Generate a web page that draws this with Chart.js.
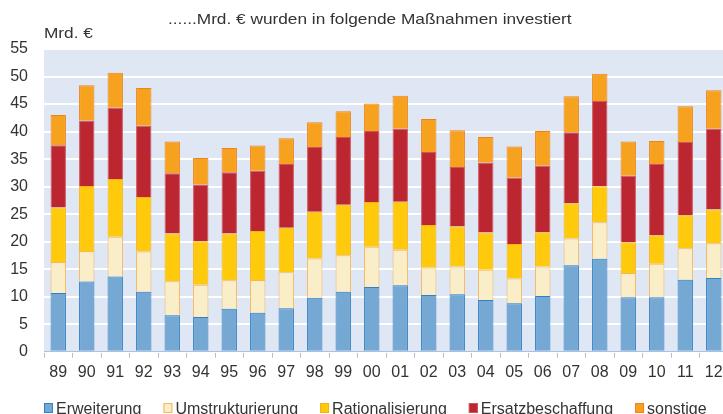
<!DOCTYPE html>
<html>
<head>
<meta charset="utf-8">
<script src="https://cdn.jsdelivr.net/npm/chart.js@4"></script>
<style>
  html, body { margin: 0; padding: 0; background: #fff; overflow: hidden; }
  #wrap { width: 723px; height: 414px; overflow: hidden; position: relative; }
  #box { width: 728px; height: 414px; position: absolute; left: 0; top: 0; }
</style>
</head>
<body>
<div id="wrap"><div id="box"><canvas id="chart"></canvas></div></div>
<script>
const years = ["89","90","91","92","93","94","95","96","97","98","99","00","01","02","03","04","05","06","07","08","09","10","11","12"];
const erweiterung       = [10.7,12.75,13.7,10.9,6.65,6.3,7.8,7.1,7.9,9.8,10.9,11.75,12.1,10.3,10.45,9.4,8.8,10.15,15.7,16.9,9.9,9.9,13.1,13.4];
const umstrukturierung  = [5.6,5.55,7.2,7.3,6.15,5.9,5.2,5.95,6.55,7.15,6.65,7.35,6.45,5.0,5.05,5.5,4.5,5.35,4.9,6.65,4.4,6.1,5.7,6.3];
const rationalisierung  = [9.9,11.8,10.5,9.9,8.7,7.9,8.5,8.9,8.1,8.5,9.15,8.1,8.7,7.75,7.25,6.75,6.3,6.2,6.4,6.5,5.6,5.15,6.0,6.15];
const ersatzbeschaffung = [11.3,11.9,12.95,12.95,10.95,10.3,11.1,10.95,11.55,11.75,12.3,12.9,13.25,13.25,10.8,12.75,12.0,12.1,12.9,15.5,12.1,12.95,13.3,14.65];
const sonstige          = [5.5,6.4,6.35,6.85,5.75,4.8,4.4,4.55,4.7,4.5,4.7,5.0,6.0,6.0,6.7,4.6,5.7,6.3,6.5,4.95,6.2,4.2,6.5,7.0];
const yTicks = [0,5,10,15,20,25,30,35,40,45,50,55];

const font = "'Liberation Sans', Arial, sans-serif";
const textColor = "#333333";

// background of plot, title, unit label and legend (drawn by hand to keep one row)
const extras = {
  id: "extras",
  beforeDraw(chart) {
    const { ctx, chartArea: a } = chart;
    ctx.save();
    ctx.fillStyle = "#dfe7f4";
    ctx.fillRect(a.left, a.top, a.right - a.left, a.bottom - a.top);
    ctx.restore();
  },
  afterDraw(chart) {
    const { ctx, chartArea: a } = chart;
    ctx.save();
    ctx.fillStyle = textColor;
    ctx.font = "15px " + font;
    ctx.textBaseline = "alphabetic";
    // the original text is a bit wider than normal
    ctx.save();
    ctx.translate(168, 24);
    ctx.scale(1.15, 1);
    ctx.fillText("......Mrd. € wurden in folgende Maßnahmen investiert", 0, 0);
    ctx.restore();
    ctx.save();
    ctx.translate(a.left, 38);
    ctx.scale(1.15, 1);
    ctx.fillText("Mrd. €", 0, 0);
    ctx.restore();

    ctx.font = "16px " + font;
    let x = a.left;
    chart.data.datasets.forEach(d => {
      ctx.fillStyle = d.backgroundColor;
      ctx.fillRect(x, 403, 9, 10);
      ctx.strokeStyle = d.borderColor;
      ctx.lineWidth = 1;
      ctx.strokeRect(x + 0.5, 403.5, 8, 9);
      ctx.fillStyle = textColor;
      ctx.fillText(d.label, x + 12, 414);
      x += 12 + ctx.measureText(d.label).width + 22;
    });
    ctx.restore();
  }
};

function ds(label, data, bg, border) {
  return { label, data, backgroundColor: bg, borderColor: border, borderWidth: 1,
           barPercentage: 0.54, categoryPercentage: 1 };
}

new Chart(document.getElementById("chart"), {
  type: "bar",
  data: {
    labels: years,
    datasets: [
      ds("Erweiterung", erweiterung, "#76a8d4", "#2f80c4"),
      ds("Umstrukturierung", umstrukturierung, "#faeec9", "#f6b65a"),
      ds("Rationalisierung", rationalisierung, "#ffc90c", "#f7b414"),
      ds("Ersatzbeschaffung", ersatzbeschaffung, "#bb2630", "#d0545a"),
      ds("sonstige", sonstige, "#f7a21f", "#f0821c")
    ]
  },
  options: {
    responsive: true,
    maintainAspectRatio: false,
    animation: false,
    layout: { padding: { top: 49, right: 0, left: 0, bottom: 27 } },
    plugins: {
      legend: { display: false },
      tooltip: { enabled: false }
    },
    scales: {
      x: {
        stacked: true,
        grid: { drawOnChartArea: false, drawTicks: true, tickLength: 6, color: "#a7c2e3", offset: true },
        border: { display: true, color: "#a7c2e3", width: 1 },
        ticks: { font: { family: font, size: 16 }, color: textColor, padding: 5, maxRotation: 0, autoSkip: false }
      },
      y: {
        stacked: true,
        min: 0, max: 55,
        afterBuildTicks(axis) { axis.ticks = yTicks.map(v => ({ value: v })); },
        afterFit(axis) { axis.width = 44; },
        grid: { color: "#ffffff", lineWidth: 2, drawTicks: false },
        border: { display: false },
        ticks: { font: { family: font, size: 16 }, color: textColor, padding: 16 }
      }
    }
  },
  plugins: [extras]
});
</script>
</body>
</html>
